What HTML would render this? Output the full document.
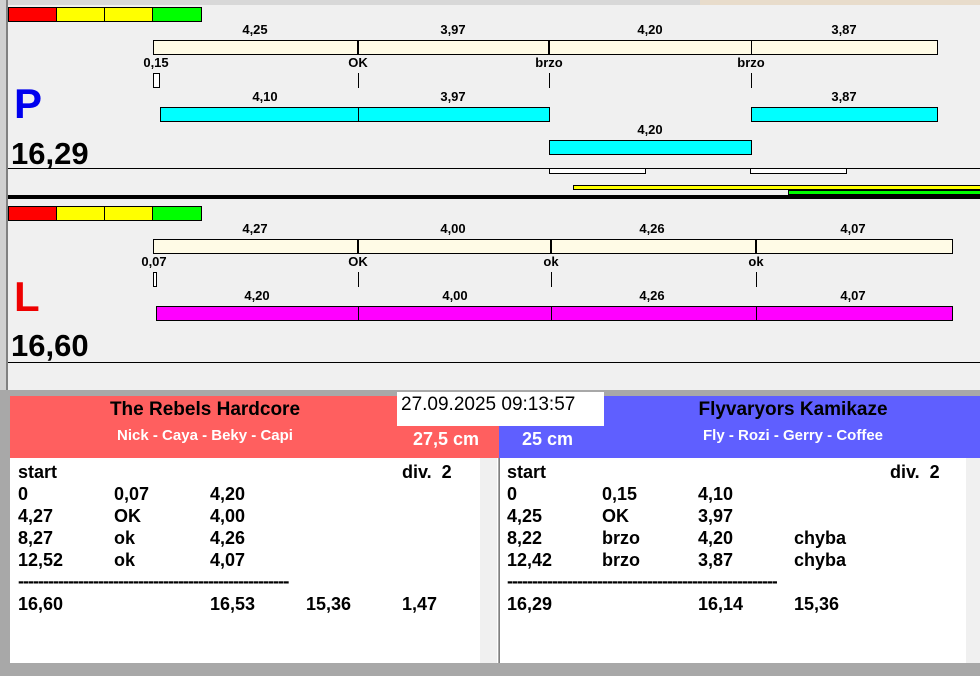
<!DOCTYPE html>
<html><head><meta charset="utf-8"><style>
*{margin:0;padding:0;box-sizing:border-box}
body{width:980px;height:676px;background:#f0f0f0;position:relative;overflow:hidden;font-family:"Liberation Sans",Arial,sans-serif;font-weight:bold}
.a{position:absolute}
.t{position:absolute;font-size:13px;color:#000;transform:translateX(-50%);white-space:nowrap;line-height:14px}
.bar{position:absolute;border:1px solid #000}
.v{position:absolute;width:1px;background:#000}
.r{position:absolute;font-size:18px;line-height:22px;color:#000;white-space:nowrap}
</style></head><body>
<div class="a" style="left:0;top:0;width:980px;height:5px;background:#d8d8d8"></div>
<div class="a" style="left:700px;top:0;width:280px;height:5px;background:#e8dccb"></div>
<div class="a" style="left:0;top:0;width:8px;height:392px;background:#d0d0d0;border-right:2px solid #808080"></div>
<!-- P color bar -->
<div class="bar" style="left:8px;top:7px;width:49px;height:15px;background:#f00"></div>
<div class="bar" style="left:56px;top:7px;width:49px;height:15px;background:#ff0"></div>
<div class="bar" style="left:104px;top:7px;width:49px;height:15px;background:#ff0"></div>
<div class="bar" style="left:152px;top:7px;width:50px;height:15px;background:#0f0"></div>
<div class="t" style="left:255px;top:23px">4,25</div><div class="t" style="left:453px;top:23px">3,97</div><div class="t" style="left:650px;top:23px">4,20</div><div class="t" style="left:844px;top:23px">3,87</div>
<div class="bar" style="left:153px;top:40px;width:785px;height:15px;background:#fffbe6"></div>
<div class="v" style="left:357px;top:40px;height:15px;width:2px"></div><div class="v" style="left:548px;top:40px;height:15px;width:2px"></div><div class="v" style="left:751px;top:40px;height:15px"></div>
<div class="t" style="left:156px;top:56px">0,15</div><div class="t" style="left:358px;top:56px">OK</div><div class="t" style="left:549px;top:56px">brzo</div><div class="t" style="left:751px;top:56px">brzo</div>
<div class="bar" style="left:153px;top:73px;width:7px;height:15px;background:#fff"></div>
<div class="v" style="left:358px;top:73px;height:15px"></div><div class="v" style="left:549px;top:73px;height:15px"></div><div class="v" style="left:751px;top:73px;height:15px"></div>
<div class="a" style="left:14px;top:82px;font-size:42px;color:#0000ee;line-height:44px">P</div>
<div class="t" style="left:265px;top:90px">4,10</div><div class="t" style="left:453px;top:90px">3,97</div><div class="t" style="left:844px;top:90px">3,87</div>
<div class="bar" style="left:160px;top:107px;width:390px;height:15px;background:#0ff"></div><div class="v" style="left:358px;top:107px;height:15px"></div>
<div class="bar" style="left:751px;top:107px;width:187px;height:15px;background:#0ff"></div>
<div class="t" style="left:650px;top:123px">4,20</div>
<div class="bar" style="left:549px;top:140px;width:203px;height:15px;background:#0ff"></div>
<div class="a" style="left:11px;top:137px;font-size:31px;line-height:34px">16,29</div>
<div class="a" style="left:8px;top:168px;width:972px;height:1px;background:#000"></div>
<div class="bar" style="left:549px;top:168px;width:97px;height:6px;background:#fff"></div>
<div class="bar" style="left:750px;top:168px;width:97px;height:6px;background:#fff"></div>
<div class="bar" style="left:573px;top:185px;width:410px;height:5px;background:#ff0"></div>
<div class="bar" style="left:788px;top:190px;width:200px;height:5px;background:#0f0"></div>
<div class="a" style="left:8px;top:195px;width:972px;height:4px;background:#000"></div>
<!-- L -->
<div class="bar" style="left:8px;top:206px;width:49px;height:15px;background:#f00"></div>
<div class="bar" style="left:56px;top:206px;width:49px;height:15px;background:#ff0"></div>
<div class="bar" style="left:104px;top:206px;width:49px;height:15px;background:#ff0"></div>
<div class="bar" style="left:152px;top:206px;width:50px;height:15px;background:#0f0"></div>
<div class="t" style="left:255px;top:222px">4,27</div><div class="t" style="left:453px;top:222px">4,00</div><div class="t" style="left:652px;top:222px">4,26</div><div class="t" style="left:853px;top:222px">4,07</div>
<div class="bar" style="left:153px;top:239px;width:800px;height:15px;background:#fffbe6"></div>
<div class="v" style="left:357px;top:239px;height:15px;width:2px"></div><div class="v" style="left:550px;top:239px;height:15px;width:2px"></div><div class="v" style="left:755px;top:239px;height:15px;width:2px"></div>
<div class="t" style="left:154px;top:255px">0,07</div><div class="t" style="left:358px;top:255px">OK</div><div class="t" style="left:551px;top:255px">ok</div><div class="t" style="left:756px;top:255px">ok</div>
<div class="bar" style="left:153px;top:272px;width:4px;height:15px;background:#fff"></div>
<div class="v" style="left:358px;top:272px;height:15px"></div><div class="v" style="left:551px;top:272px;height:15px"></div><div class="v" style="left:756px;top:272px;height:15px"></div>
<div class="a" style="left:14px;top:275px;font-size:42px;color:#ee0000;line-height:44px">L</div>
<div class="t" style="left:257px;top:289px">4,20</div><div class="t" style="left:455px;top:289px">4,00</div><div class="t" style="left:652px;top:289px">4,26</div><div class="t" style="left:853px;top:289px">4,07</div>
<div class="bar" style="left:156px;top:306px;width:797px;height:15px;background:#f0f"></div>
<div class="v" style="left:358px;top:306px;height:15px"></div><div class="v" style="left:551px;top:306px;height:15px"></div><div class="v" style="left:756px;top:306px;height:15px"></div>
<div class="a" style="left:11px;top:329px;font-size:31px;line-height:34px">16,60</div>
<div class="a" style="left:8px;top:362px;width:972px;height:1px;background:#000"></div>
<!-- bottom -->
<div class="a" style="left:0;top:390px;width:980px;height:286px;background:#a8a8a8"></div>
<div class="a" style="left:10px;top:396px;width:489px;height:62px;background:#ff5f5f"></div>
<div class="a" style="left:499px;top:396px;width:481px;height:62px;background:#5f5fff"></div>
<div class="a" style="left:10px;top:398px;width:390px;text-align:center;font-size:19px;line-height:24px">The Rebels Hardcore</div>
<div class="a" style="left:10px;top:427px;width:390px;text-align:center;font-size:15px;color:#fff;line-height:18px">Nick - Caya - Beky - Capi</div>
<div class="a" style="left:600px;top:398px;width:386px;text-align:center;font-size:19px;line-height:24px">Flyvaryors Kamikaze</div>
<div class="a" style="left:600px;top:427px;width:386px;text-align:center;font-size:15px;color:#fff;line-height:18px">Fly - Rozi - Gerry - Coffee</div>
<div class="a" style="left:397px;top:392px;width:207px;height:34px;background:#fff;font-weight:normal;font-size:19px;line-height:26px;padding-left:4px">27.09.2025 09:13:57</div>
<div class="a" style="left:413px;top:428px;font-size:18px;color:#fff;line-height:22px">27,5 cm</div>
<div class="a" style="left:522px;top:428px;font-size:18px;color:#fff;line-height:22px">25 cm</div>
<div class="a" style="left:10px;top:458px;width:488px;height:205px;background:#fff"></div>
<div class="a" style="left:480px;top:458px;width:17px;height:205px;background:#f0f0f0"></div>
<div class="a" style="left:499px;top:458px;width:481px;height:205px;background:#fff;border-left:1px solid #808080"></div>
<div class="a" style="left:966px;top:458px;width:14px;height:205px;background:#f0f0f0"></div>
<div class="r" style="left:18px;top:461px">start</div><div class="r" style="left:402px;top:461px">div.&nbsp; 2</div>
<div class="r" style="left:18px;top:483px">0</div><div class="r" style="left:114px;top:483px">0,07</div><div class="r" style="left:210px;top:483px">4,20</div>
<div class="r" style="left:18px;top:505px">4,27</div><div class="r" style="left:114px;top:505px">OK</div><div class="r" style="left:210px;top:505px">4,00</div>
<div class="r" style="left:18px;top:527px">8,27</div><div class="r" style="left:114px;top:527px">ok</div><div class="r" style="left:210px;top:527px">4,26</div>
<div class="r" style="left:18px;top:549px">12,52</div><div class="r" style="left:114px;top:549px">ok</div><div class="r" style="left:210px;top:549px">4,07</div>
<div class="r" style="left:18px;top:570px;width:271px;overflow:hidden;letter-spacing:-1px">------------------------------------------------------------</div>
<div class="r" style="left:18px;top:593px">16,60</div><div class="r" style="left:210px;top:593px">16,53</div><div class="r" style="left:306px;top:593px">15,36</div><div class="r" style="left:402px;top:593px">1,47</div>
<div class="r" style="left:507px;top:461px">start</div><div class="r" style="left:890px;top:461px">div.&nbsp; 2</div>
<div class="r" style="left:507px;top:483px">0</div><div class="r" style="left:602px;top:483px">0,15</div><div class="r" style="left:698px;top:483px">4,10</div>
<div class="r" style="left:507px;top:505px">4,25</div><div class="r" style="left:602px;top:505px">OK</div><div class="r" style="left:698px;top:505px">3,97</div>
<div class="r" style="left:507px;top:527px">8,22</div><div class="r" style="left:602px;top:527px">brzo</div><div class="r" style="left:698px;top:527px">4,20</div><div class="r" style="left:794px;top:527px">chyba</div>
<div class="r" style="left:507px;top:549px">12,42</div><div class="r" style="left:602px;top:549px">brzo</div><div class="r" style="left:698px;top:549px">3,87</div><div class="r" style="left:794px;top:549px">chyba</div>
<div class="r" style="left:507px;top:570px;width:270px;overflow:hidden;letter-spacing:-1px">------------------------------------------------------------</div>
<div class="r" style="left:507px;top:593px">16,29</div><div class="r" style="left:698px;top:593px">16,14</div><div class="r" style="left:794px;top:593px">15,36</div>
</body></html>
